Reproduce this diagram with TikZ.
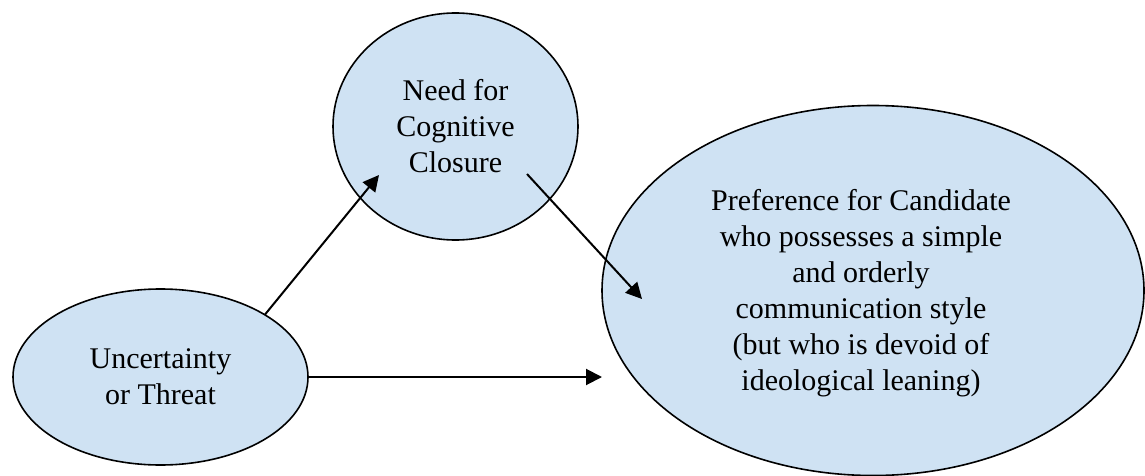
\documentclass[tikz,border=0pt]{standalone}
\usepackage{fontspec}
\setmainfont{Liberation Serif}
\usetikzlibrary{arrows.meta,shapes.geometric,calc}
\definecolor{bubble}{RGB}{207,226,243}
\begin{document}
\begin{tikzpicture}[x=0.5pt,y=-0.5pt,
  bub/.style={ellipse,draw=black,line width=0.8pt,fill=bubble,inner sep=0pt,outer sep=0pt,align=center,font=\fontsize{15pt}{18pt}\selectfont},
  lbl/.style={align=center,font=\fontsize{15pt}{18pt}\selectfont,inner sep=0pt},
  arr/.style={line width=1pt,-{Triangle[length=8pt,width=8pt]}}]
\useasboundingbox[fill=white] (0,0) rectangle (1145,476);
\node[bub,minimum width=147.5pt,minimum height=88pt] (unc) at (160.5,377) {Uncertainty\\or Threat};
\node[bub,minimum width=122.5pt,minimum height=113.5pt] (need) at (455.5,126.5) {Need for\\Cognitive\\Closure};
\node[bub,minimum width=271pt,minimum height=185pt] (pref) at (873,290.5) {};
\node[lbl] (preftext) at (861,293) {Preference for Candidate\\who possesses a simple\\and orderly\\communication style\\(but who is devoid of\\ideological leaning)};
\coordinate (a1e) at ($(need.center)+(-76.5,48.5)$);
\coordinate (a2s) at ($(need.center)+(71.5,47.5)$);
\coordinate (a2e) at ($(pref.center)+(-231,8.5)$);
\draw[arr] (unc.north east) -- (a1e);
\draw[arr] (a2s) -- (a2e);
\draw[arr] (unc.east) -- (unc.east -| pref.west);
\end{tikzpicture}
\end{document}
